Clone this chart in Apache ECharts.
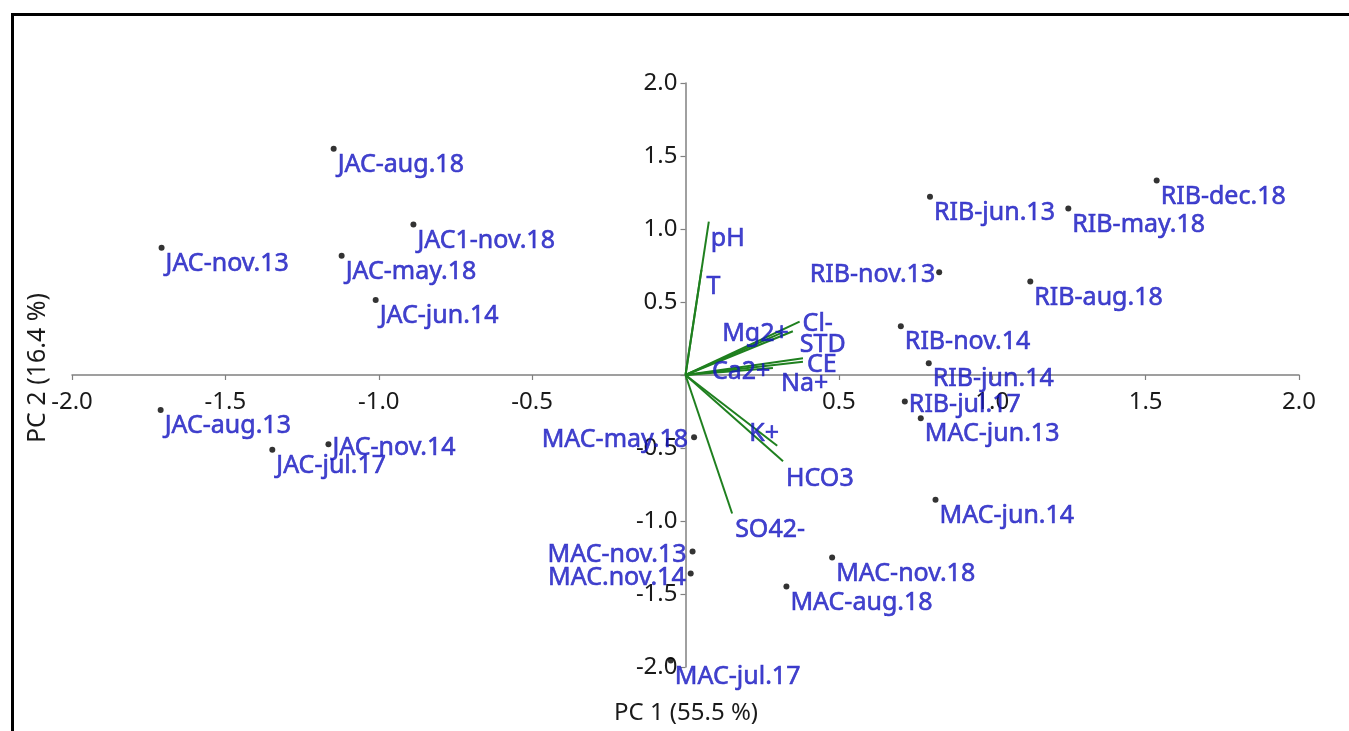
<!DOCTYPE html>
<html>
<head>
<meta charset="utf-8">
<script src="https://cdn.jsdelivr.net/npm/echarts@6/dist/echarts.min.js"></script>
<style>
html,body{margin:0;padding:0;background:#fff;}
#chart{width:1349px;height:731px;}
</style>
</head>
<body>
<div id="chart"></div>
<script>
// ---- data ----
const sampleNames = ['JAC-aug.18','JAC1-nov.18','JAC-nov.13','JAC-may.18','JAC-jun.14','JAC-aug.13','JAC-jul.17','JAC-nov.14',
  'MAC-may.18','MAC-nov.13','MAC.nov.14','MAC-aug.18','MAC-nov.18','MAC-jun.14','MAC-jul.17','MAC-jun.13',
  'RIB-jul.17','RIB-jun.14','RIB-nov.14','RIB-nov.13','RIB-aug.18','RIB-jun.13','RIB-may.18','RIB-dec.18'];
const samplePC1 = [-1.147,-0.887,-1.708,-1.121,-1.010,-1.711,-1.347,-1.164,
  0.028,0.023,0.017,0.329,0.478,0.815,-0.048,0.767,
  0.715,0.793,0.702,0.827,1.124,0.797,1.248,1.536];
const samplePC2 = [1.550,1.031,0.871,0.816,0.514,-0.240,-0.512,-0.475,
  -0.427,-1.209,-1.360,-1.449,-1.250,-0.855,-1.955,-0.297,
  -0.181,0.080,0.334,0.704,0.640,1.221,1.141,1.333];

const varNames = ['pH','T','Cl-','STD','Mg2+','CE','Na+','Ca2+','K+','HCO3','SO42-'];
const varPC1 = [0.076,0.052,0.372,0.350,0.315,0.383,0.383,0.285,0.299,0.318,0.152];
const varPC2 = [1.051,0.720,0.366,0.300,0.290,0.114,0.091,0.048,-0.485,-0.590,-0.949];

const axisMin = -2, axisMax = 2, axisStep = 0.5;
const xAxisTitle = 'PC 1 (55.5 %)';
const yAxisTitle = 'PC 2 (16.4 %)';

// ---- label placement (style only) ----
const defaultPointLabel = [4, 16, 'left'];
const pointLabelPlacement = {
  'RIB-nov.13': [-4, 3, 'right'],
  'MAC-may.18': [-6, 3, 'right'],
  'MAC-nov.13': [-6, 3, 'right'],
  'MAC.nov.14': [-5, 4, 'right'],
  'JAC-nov.14': [4, 4, 'left'],
  'RIB-jul.17': [4, 3, 'left']
};
const varLabelPlacement = {
  'pH': [2, 17, 'left'],
  'T': [5, 17, 'left'],
  'Cl-': [3, 2, 'left'],
  'STD': [7, 14, 'left'],
  'Mg2+': [-60, 1, 'left'],
  'CE': [4, 7, 'left'],
  'Na+': [-22, 22, 'left'],
  'Ca2+': [-61, 4, 'left'],
  'K+': [-28, -12, 'left'],
  'HCO3': [3, 18, 'left'],
  'SO42-': [3, 16, 'left']
};

const FONT = '"Noto Sans", "Open Sans", sans-serif';
const LABEL_BLUE = '#1414c0';
const GREEN = '#1f801f';
const W = 1349, H = 731;
const GRID = { left: 72, right: 50, top: 83, bottom: 64 };
const gridW = W - GRID.left - GRID.right;
const gridH = H - GRID.top - GRID.bottom;

function labelCfg(p) {
  return {
    show: true, position: 'inside', align: p[2], verticalAlign: 'middle',
    offset: [p[0], p[1]], color: LABEL_BLUE, fontSize: 25, fontFamily: FONT,
    textBorderColor: LABEL_BLUE, textBorderWidth: 0.6
  };
}

const pointData = sampleNames.map((n, i) => ({
  name: n, value: [samplePC1[i], samplePC2[i]],
  label: Object.assign(labelCfg(pointLabelPlacement[n] || defaultPointLabel), { formatter: n })
}));
const varEndData = varNames.map((n, i) => ({
  name: n, value: [varPC1[i], varPC2[i]],
  label: Object.assign(labelCfg(varLabelPlacement[n] || [3, 17, 'left']), { formatter: n })
}));
const varLines = varNames.map((n, i) => ({ coords: [[0, 0], [varPC1[i], varPC2[i]]] }));

const tickFmt = v => (Math.abs(v) < 1e-9 ? '' : v.toFixed(1));
const axisCommon = {
  type: 'value', min: axisMin, max: axisMax, interval: axisStep,
  splitLine: { show: false },
  axisLine: { show: true, onZero: false, lineStyle: { color: '#808080', width: 1.5 } },
  axisTick: { show: true, length: 5, lineStyle: { color: '#808080', width: 1.2 } },
};

const chart = echarts.init(document.getElementById('chart'), null, { renderer: 'canvas' });
chart.setOption({
  backgroundColor: '#ffffff',
  animation: false,
  grid: Object.assign({ containLabel: false }, GRID),
  xAxis: Object.assign({}, axisCommon, {
    position: 'bottom', offset: -gridH / 2,
    axisLabel: { margin: 15, fontSize: 24, color: '#1a1a1a', fontFamily: FONT, formatter: tickFmt }
  }),
  yAxis: Object.assign({}, axisCommon, {
    position: 'left', offset: -gridW / 2,
    axisLabel: { margin: 8, fontSize: 24, color: '#1a1a1a', fontFamily: FONT, formatter: tickFmt }
  }),
  graphic: [
    { type: 'rect', left: 10, top: 12, shape: { width: 1400, height: 800 },
      style: { fill: 'none', stroke: '#000', lineWidth: 3 }, silent: true, z: 100 },
    { type: 'text', x: 686, y: 713, style: { text: xAxisTitle, fontSize: 24, fontFamily: FONT,
      fill: '#1a1a1a', align: 'center', verticalAlign: 'middle' } },
    { type: 'text', x: 38, y: 368, rotation: Math.PI / 2, style: { text: yAxisTitle, fontSize: 25, fontFamily: FONT,
      fill: '#1a1a1a', align: 'center', verticalAlign: 'middle' } }
  ],
  series: [
    {
      type: 'lines', coordinateSystem: 'cartesian2d', polyline: false,
      data: varLines, silent: true,
      lineStyle: { color: GREEN, width: 2, opacity: 1 }, z: 3
    },
    {
      type: 'scatter', data: varEndData, symbolSize: 0.1, silent: true,
      itemStyle: { color: 'transparent' }, z: 5
    },
    {
      type: 'scatter', data: pointData, symbol: 'circle', symbolSize: 6,
      itemStyle: { color: '#000' }, z: 6
    }
  ]
});
</script>
</body>
</html>
